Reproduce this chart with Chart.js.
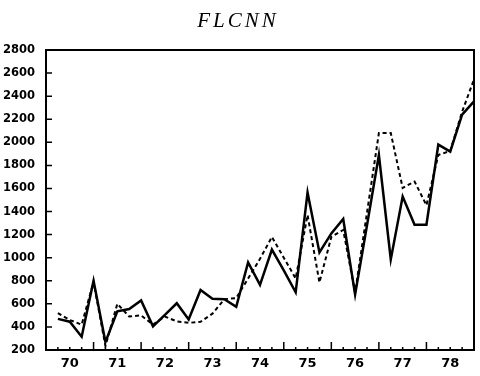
<!DOCTYPE html>
<html>
<head>
<meta charset="utf-8">
<script src="https://cdn.jsdelivr.net/npm/chart.js@4"></script>
<style>
  body { margin: 0; background: #fff; }
</style>
</head>
<body>
<canvas id="graph" width="480" height="376"></canvas>
<script>
const titleText = "FLCNN"
const years = [70, 71, 72, 73, 74, 75, 76, 77, 78]
const yTicks = [200, 400, 600, 800, 1000, 1200, 1400, 1600, 1800, 2000, 2200, 2400, 2600, 2800]

// quarterly values, plotted at the end of each quarter
const actual = [
  470, 445, 315, 800, 270, 535, 555, 630, 405, 505, 605, 465,
  720, 645, 640, 575, 960, 765, 1070, 890, 700, 1565, 1045, 1210,
  1335, 680, 1280, 1890, 985, 1530, 1285, 1285, 1980, 1920, 2240, 2355
]
const fitted = [
  520, 460, 420, 790, 235, 600, 490, 500, 420, 490, 448, 435,
  445, 515, 640, 650, 820, 990, 1180, 1000, 820, 1370, 785, 1180,
  1240, 700, 1390, 2080, 2080, 1605, 1660, 1455, 1890, 1925, 2265, 2545
]

const quarters = [""]
years.forEach(y => ["Q1", "Q2", "Q3", "Q4"].forEach(q => quarters.push(y + q)))

const canva = document.getElementById("graph")
const ctx = canva.getContext("2d")

const frameAndTicks = {
  id: "frameAndTicks",
  afterDatasetsDraw(chart) {
    const { ctx, chartArea: a, scales: { x, y } } = chart
    ctx.save()
    ctx.strokeStyle = "#000"
    ctx.lineWidth = 2
    ctx.strokeRect(a.left, a.top, a.right - a.left, a.bottom - a.top)

    ctx.lineWidth = 1.5
    ctx.beginPath()
    x.ticks.forEach((t, i) => {
      if (i === 0 || i === x.ticks.length - 1) return
      const px = x.getPixelForTick(i)
      const len = i % 4 === 0 ? 8 : 3
      ctx.moveTo(px, a.bottom)
      ctx.lineTo(px, a.bottom - len)
    })
    y.ticks.forEach((t, i) => {
      const py = y.getPixelForTick(i)
      ctx.moveTo(a.left, py)
      ctx.lineTo(a.left + 6, py)
    })
    ctx.stroke()

    ctx.fillStyle = "#000"
    ctx.font = 'italic 21px "Liberation Serif"'
    ctx.letterSpacing = "3px"
    ctx.textAlign = "center"
    ctx.textBaseline = "alphabetic"
    ctx.fillText(titleText, chart.width / 2 - 2, 27)
    ctx.restore()
  }
}

new Chart(ctx, {
  type: "line",
  data: {
    labels: quarters,
    datasets: [
      {
        data: [null, ...fitted],
        borderColor: "#000",
        borderWidth: 2,
        borderDash: [4, 3],
        pointRadius: 0,
        tension: 0
      },
      {
        data: [null, ...actual],
        borderColor: "#000",
        borderWidth: 2.5,
        pointRadius: 0,
        tension: 0
      }
    ]
  },
  options: {
    responsive: false,
    animation: false,
    layout: { padding: { top: 50, right: 5, left: 0, bottom: 0 } },
    plugins: {
      legend: { display: false },
      tooltip: { enabled: false },
      title: { display: false }
    },
    scales: {
      x: {
        offset: false,
        grid: { display: false, drawTicks: false },
        border: { display: false },
        afterFit: scale => { scale.height = 26 },
        ticks: {
          autoSkip: false,
          maxRotation: 0,
          padding: 6,
          color: "#000",
          font: { family: "DejaVu Sans", weight: "bold", size: 13 },
          callback: (val, i) => i % 4 === 2 ? String(years[(i - 2) / 4]) : ""
        }
      },
      y: {
        min: 200,
        max: 2800,
        grid: { display: false, drawTicks: false },
        border: { display: false },
        afterFit: scale => { scale.width = 46 },
        afterBuildTicks: scale => { scale.ticks = yTicks.map(v => ({ value: v })) },
        ticks: {
          padding: 11,
          color: "#000",
          font: { family: "DejaVu Sans", weight: "bold", size: 11.5 },
          callback: v => String(v)
        }
      }
    }
  },
  plugins: [frameAndTicks]
})
</script>
</body>
</html>
